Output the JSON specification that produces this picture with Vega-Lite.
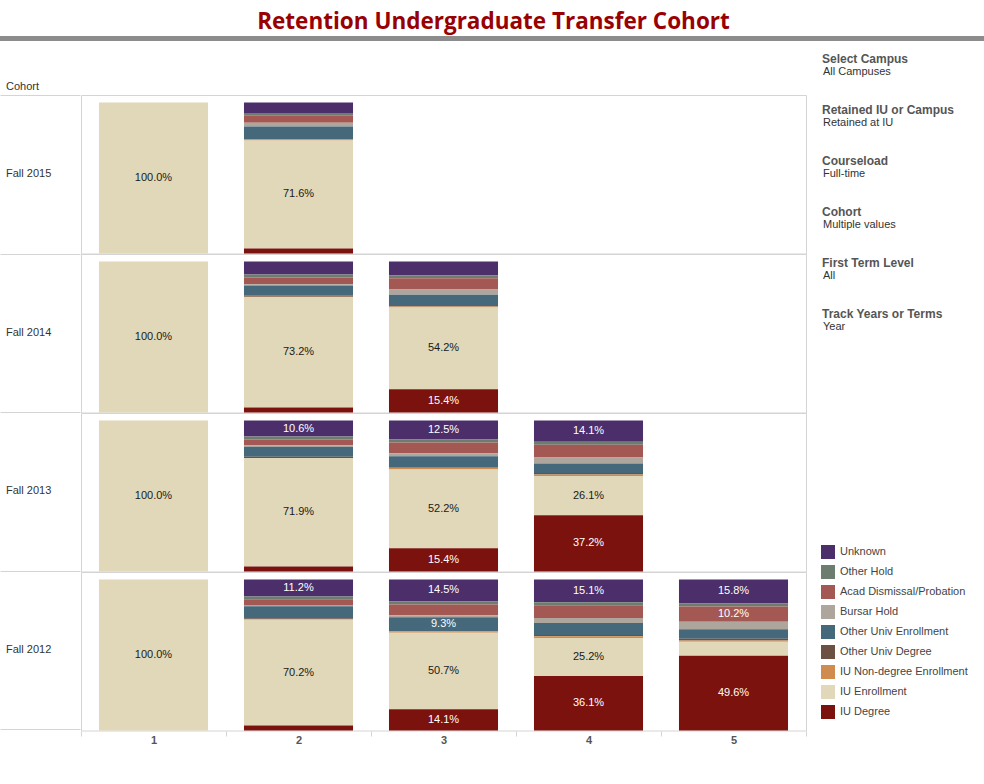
{
  "$schema": "https://vega.github.io/schema/vega-lite/v6.json",
  "background": "white",
  "padding": {"left": 0, "right": 0, "top": 10, "bottom": 0},
  "title": {"text": "Retention Undergraduate Transfer Cohort", "font": "Open Sans", "fontSize": 22.5, "fontWeight": "bold", "color": "#990000", "anchor": "middle", "offset": 3},
  "datasets": {
    "retention": [
      {"cohort": "Fall 2015", "year": 1, "category": "IU Enrollment", "value": 1.0},
      {"cohort": "Fall 2015", "year": 2, "category": "Unknown", "value": 0.070},
      {"cohort": "Fall 2015", "year": 2, "category": "Other Hold", "value": 0.017},
      {"cohort": "Fall 2015", "year": 2, "category": "Acad Dismissal/Probation", "value": 0.047},
      {"cohort": "Fall 2015", "year": 2, "category": "Bursar Hold", "value": 0.024},
      {"cohort": "Fall 2015", "year": 2, "category": "Other Univ Enrollment", "value": 0.083},
      {"cohort": "Fall 2015", "year": 2, "category": "Other Univ Degree", "value": 0.003},
      {"cohort": "Fall 2015", "year": 2, "category": "IU Non-degree Enrollment", "value": 0.007},
      {"cohort": "Fall 2015", "year": 2, "category": "IU Enrollment", "value": 0.716},
      {"cohort": "Fall 2015", "year": 2, "category": "IU Degree", "value": 0.033},

      {"cohort": "Fall 2014", "year": 1, "category": "IU Enrollment", "value": 1.0},
      {"cohort": "Fall 2014", "year": 2, "category": "Unknown", "value": 0.086},
      {"cohort": "Fall 2014", "year": 2, "category": "Other Hold", "value": 0.020},
      {"cohort": "Fall 2014", "year": 2, "category": "Acad Dismissal/Probation", "value": 0.044},
      {"cohort": "Fall 2014", "year": 2, "category": "Bursar Hold", "value": 0.009},
      {"cohort": "Fall 2014", "year": 2, "category": "Other Univ Enrollment", "value": 0.066},
      {"cohort": "Fall 2014", "year": 2, "category": "Other Univ Degree", "value": 0.009},
      {"cohort": "Fall 2014", "year": 2, "category": "IU Non-degree Enrollment", "value": 0.001},
      {"cohort": "Fall 2014", "year": 2, "category": "IU Enrollment", "value": 0.732},
      {"cohort": "Fall 2014", "year": 2, "category": "IU Degree", "value": 0.033},
      {"cohort": "Fall 2014", "year": 3, "category": "Unknown", "value": 0.090},
      {"cohort": "Fall 2014", "year": 3, "category": "Other Hold", "value": 0.020},
      {"cohort": "Fall 2014", "year": 3, "category": "Acad Dismissal/Probation", "value": 0.075},
      {"cohort": "Fall 2014", "year": 3, "category": "Bursar Hold", "value": 0.035},
      {"cohort": "Fall 2014", "year": 3, "category": "Other Univ Enrollment", "value": 0.075},
      {"cohort": "Fall 2014", "year": 3, "category": "Other Univ Degree", "value": 0.002},
      {"cohort": "Fall 2014", "year": 3, "category": "IU Non-degree Enrollment", "value": 0.007},
      {"cohort": "Fall 2014", "year": 3, "category": "IU Enrollment", "value": 0.542},
      {"cohort": "Fall 2014", "year": 3, "category": "IU Degree", "value": 0.154},

      {"cohort": "Fall 2013", "year": 1, "category": "IU Enrollment", "value": 1.0},
      {"cohort": "Fall 2013", "year": 2, "category": "Unknown", "value": 0.106},
      {"cohort": "Fall 2013", "year": 2, "category": "Other Hold", "value": 0.020},
      {"cohort": "Fall 2013", "year": 2, "category": "Acad Dismissal/Probation", "value": 0.038},
      {"cohort": "Fall 2013", "year": 2, "category": "Bursar Hold", "value": 0.009},
      {"cohort": "Fall 2013", "year": 2, "category": "Other Univ Enrollment", "value": 0.066},
      {"cohort": "Fall 2013", "year": 2, "category": "Other Univ Degree", "value": 0.009},
      {"cohort": "Fall 2013", "year": 2, "category": "IU Enrollment", "value": 0.719},
      {"cohort": "Fall 2013", "year": 2, "category": "IU Degree", "value": 0.033},
      {"cohort": "Fall 2013", "year": 3, "category": "Unknown", "value": 0.125},
      {"cohort": "Fall 2013", "year": 3, "category": "Other Hold", "value": 0.020},
      {"cohort": "Fall 2013", "year": 3, "category": "Acad Dismissal/Probation", "value": 0.072},
      {"cohort": "Fall 2013", "year": 3, "category": "Bursar Hold", "value": 0.020},
      {"cohort": "Fall 2013", "year": 3, "category": "Other Univ Enrollment", "value": 0.076},
      {"cohort": "Fall 2013", "year": 3, "category": "IU Non-degree Enrollment", "value": 0.011},
      {"cohort": "Fall 2013", "year": 3, "category": "IU Enrollment", "value": 0.522},
      {"cohort": "Fall 2013", "year": 3, "category": "IU Degree", "value": 0.154},
      {"cohort": "Fall 2013", "year": 4, "category": "Unknown", "value": 0.141},
      {"cohort": "Fall 2013", "year": 4, "category": "Other Hold", "value": 0.020},
      {"cohort": "Fall 2013", "year": 4, "category": "Acad Dismissal/Probation", "value": 0.083},
      {"cohort": "Fall 2013", "year": 4, "category": "Bursar Hold", "value": 0.040},
      {"cohort": "Fall 2013", "year": 4, "category": "Other Univ Enrollment", "value": 0.063},
      {"cohort": "Fall 2013", "year": 4, "category": "Other Univ Degree", "value": 0.011},
      {"cohort": "Fall 2013", "year": 4, "category": "IU Non-degree Enrollment", "value": 0.009},
      {"cohort": "Fall 2013", "year": 4, "category": "IU Enrollment", "value": 0.261},
      {"cohort": "Fall 2013", "year": 4, "category": "IU Degree", "value": 0.372},

      {"cohort": "Fall 2012", "year": 1, "category": "IU Enrollment", "value": 1.0},
      {"cohort": "Fall 2012", "year": 2, "category": "Unknown", "value": 0.112},
      {"cohort": "Fall 2012", "year": 2, "category": "Other Hold", "value": 0.018},
      {"cohort": "Fall 2012", "year": 2, "category": "Acad Dismissal/Probation", "value": 0.038},
      {"cohort": "Fall 2012", "year": 2, "category": "Bursar Hold", "value": 0.009},
      {"cohort": "Fall 2012", "year": 2, "category": "Other Univ Enrollment", "value": 0.079},
      {"cohort": "Fall 2012", "year": 2, "category": "Other Univ Degree", "value": 0.009},
      {"cohort": "Fall 2012", "year": 2, "category": "IU Enrollment", "value": 0.702},
      {"cohort": "Fall 2012", "year": 2, "category": "IU Degree", "value": 0.033},
      {"cohort": "Fall 2012", "year": 3, "category": "Unknown", "value": 0.145},
      {"cohort": "Fall 2012", "year": 3, "category": "Other Hold", "value": 0.020},
      {"cohort": "Fall 2012", "year": 3, "category": "Acad Dismissal/Probation", "value": 0.072},
      {"cohort": "Fall 2012", "year": 3, "category": "Bursar Hold", "value": 0.013},
      {"cohort": "Fall 2012", "year": 3, "category": "Other Univ Enrollment", "value": 0.093},
      {"cohort": "Fall 2012", "year": 3, "category": "IU Non-degree Enrollment", "value": 0.009},
      {"cohort": "Fall 2012", "year": 3, "category": "IU Enrollment", "value": 0.507},
      {"cohort": "Fall 2012", "year": 3, "category": "IU Degree", "value": 0.141},
      {"cohort": "Fall 2012", "year": 4, "category": "Unknown", "value": 0.151},
      {"cohort": "Fall 2012", "year": 4, "category": "Other Hold", "value": 0.020},
      {"cohort": "Fall 2012", "year": 4, "category": "Acad Dismissal/Probation", "value": 0.084},
      {"cohort": "Fall 2012", "year": 4, "category": "Bursar Hold", "value": 0.033},
      {"cohort": "Fall 2012", "year": 4, "category": "Other Univ Enrollment", "value": 0.079},
      {"cohort": "Fall 2012", "year": 4, "category": "Other Univ Degree", "value": 0.009},
      {"cohort": "Fall 2012", "year": 4, "category": "IU Non-degree Enrollment", "value": 0.011},
      {"cohort": "Fall 2012", "year": 4, "category": "IU Enrollment", "value": 0.252},
      {"cohort": "Fall 2012", "year": 4, "category": "IU Degree", "value": 0.361},
      {"cohort": "Fall 2012", "year": 5, "category": "Unknown", "value": 0.158},
      {"cohort": "Fall 2012", "year": 5, "category": "Other Hold", "value": 0.020},
      {"cohort": "Fall 2012", "year": 5, "category": "Acad Dismissal/Probation", "value": 0.102},
      {"cohort": "Fall 2012", "year": 5, "category": "Bursar Hold", "value": 0.050},
      {"cohort": "Fall 2012", "year": 5, "category": "Other Univ Enrollment", "value": 0.062},
      {"cohort": "Fall 2012", "year": 5, "category": "Other Univ Degree", "value": 0.011},
      {"cohort": "Fall 2012", "year": 5, "category": "IU Non-degree Enrollment", "value": 0.009},
      {"cohort": "Fall 2012", "year": 5, "category": "IU Enrollment", "value": 0.092},
      {"cohort": "Fall 2012", "year": 5, "category": "IU Degree", "value": 0.496}
    ],
    "categories": [
      {"category": "Unknown", "rank": 9},
      {"category": "Other Hold", "rank": 8},
      {"category": "Acad Dismissal/Probation", "rank": 7},
      {"category": "Bursar Hold", "rank": 6},
      {"category": "Other Univ Enrollment", "rank": 5},
      {"category": "Other Univ Degree", "rank": 4},
      {"category": "IU Non-degree Enrollment", "rank": 3},
      {"category": "IU Enrollment", "rank": 2},
      {"category": "IU Degree", "rank": 1}
    ],
    "filters": [
      {"name": "Select Campus", "value": "All Campuses"},
      {"name": "Retained IU or Campus", "value": "Retained at IU"},
      {"name": "Courseload", "value": "Full-time"},
      {"name": "Cohort", "value": "Multiple values"},
      {"name": "First Term Level", "value": "All"},
      {"name": "Track Years or Terms", "value": "Year"}
    ]
  },
  "vconcat": [
    {
      "width": 984,
      "height": 5,
      "data": {"values": [{"bar": "header"}]},
      "view": {"fill": "#8c8c8c", "stroke": null},
      "mark": {"type": "rect", "color": "#8c8c8c"},
      "encoding": {}
    },
    {
      "spacing": 15,
      "hconcat": [
        {
          "spacing": 0,
          "hconcat": [
            {
              "width": 80,
              "height": 634,
              "data": {"name": "retention"},
              "transform": [{"aggregate": [], "groupby": ["cohort"]}],
              "title": {"text": "Cohort", "anchor": "start", "frame": "group", "font": "Liberation Sans", "fontSize": 11, "fontWeight": "normal", "color": "#333333", "offset": 3, "dx": 6},
              "view": {"stroke": null},
              "mark": {"type": "text", "align": "left", "baseline": "middle", "dx": 6, "font": "Liberation Sans", "fontSize": 11, "color": "#333333"},
              "encoding": {
                "y": {
                  "field": "cohort",
                  "type": "nominal",
                  "sort": ["Fall 2015", "Fall 2014", "Fall 2013", "Fall 2012"],
                  "scale": {"type": "band", "paddingInner": 0, "paddingOuter": 0},
                  "axis": {"title": null, "labels": false, "ticks": false, "domain": false, "grid": true, "gridColor": "#d4d4d4", "tickBand": "extent", "minExtent": 0, "maxExtent": 0}
                },
                "x": {"datum": 0, "type": "quantitative", "scale": {"domain": [0, 1]}, "axis": null},
                "text": {"field": "cohort"}
              }
            },
            {
              "data": {"name": "retention"},
              "transform": [
                {"lookup": "category", "from": {"data": {"name": "categories"}, "key": "category", "fields": ["rank"]}}
              ],
              "facet": {
                "row": {
                  "field": "cohort",
                  "type": "nominal",
                  "sort": ["Fall 2015", "Fall 2014", "Fall 2013", "Fall 2012"],
                  "title": null,
                  "header": null
                }
              },
              "spacing": {"row": 0},
              "bounds": "flush",
              "spec": {
                "width": 725,
                "height": 158.5,
                "encoding": {
                  "x": {
                    "field": "year",
                    "type": "ordinal",
                    "scale": {"paddingInner": 0, "paddingOuter": 0},
                    "axis": {"title": null, "labelAngle": 0, "labelFont": "Liberation Sans", "labelFontWeight": "bold", "labelColor": "#555555", "labelFontSize": 11, "tickBand": "extent", "tickColor": "#d4d4d4", "tickSize": 5, "domain": false, "labelPadding": -2}
                  },
                  "order": {"field": "rank", "type": "quantitative", "sort": "ascending"}
                },
                "layer": [
                  {
                    "mark": {"type": "bar", "width": {"band": 0.752}},
                    "encoding": {
                      "y": {"field": "value", "type": "quantitative", "stack": "zero", "scale": {"domain": [0, 1.05], "nice": false}, "axis": null},
                      "color": {
                        "field": "category",
                        "type": "nominal",
                        "scale": {
                          "domain": ["Unknown", "Other Hold", "Acad Dismissal/Probation", "Bursar Hold", "Other Univ Enrollment", "Other Univ Degree", "IU Non-degree Enrollment", "IU Enrollment", "IU Degree"],
                          "range": ["#4c2f6a", "#6c7d70", "#a45853", "#aea69d", "#46687b", "#6a5142", "#d08b4e", "#e0d8b8", "#7c120e"]
                        },
                        "legend": {"title": null}
                      }
                    }
                  },
                  {
                    "mark": {"type": "text", "font": "Liberation Sans", "fontSize": 11, "baseline": "middle"},
                    "encoding": {
                      "y": {"field": "value", "type": "quantitative", "stack": "zero", "bandPosition": 0.5},
                      "detail": {"field": "category"},
                      "text": {"condition": {"test": "datum.value >= 0.0925", "field": "value", "format": ".1%"}, "value": ""},
                      "color": {"condition": {"test": "datum.category === 'IU Enrollment'", "value": "#1a1a1a"}, "value": "#ffffff"}
                    }
                  }
                ]
              }
            }
          ]
        },
        {
          "width": 164,
          "height": 306,
          "view": {"stroke": null},
          "data": {"name": "filters"},
          "encoding": {
            "y": {"field": "name", "type": "nominal", "sort": null, "axis": null},
            "x": {"datum": 0, "type": "quantitative", "scale": {"domain": [0, 1]}, "axis": null}
          },
          "layer": [
            {"mark": {"type": "text", "align": "left", "baseline": "middle", "font": "Liberation Sans", "fontSize": 12, "fontWeight": "bold", "color": "#555555", "dy": -61.5, "dx": -1}, "encoding": {"text": {"field": "name"}}},
            {"mark": {"type": "text", "align": "left", "baseline": "middle", "font": "Liberation Sans", "fontSize": 11, "color": "#333333", "dy": -48.5, "dx": 0}, "encoding": {"text": {"field": "value"}}}
          ]
        }
      ]
    }
  ],
  "spacing": 12,
  "config": {
    "font": "Liberation Sans",
    "view": {"stroke": "#d4d4d4"},
    "legend": {"orient": "none", "legendX": 821, "legendY": 509, "symbolType": "square", "symbolSize": 196, "symbolStrokeWidth": 0, "symbolOpacity": 1, "labelFont": "Liberation Sans", "labelFontSize": 11, "labelColor": "#444444", "rowPadding": 6, "labelOffset": 5, "labelLimit": 200}
  }
}
